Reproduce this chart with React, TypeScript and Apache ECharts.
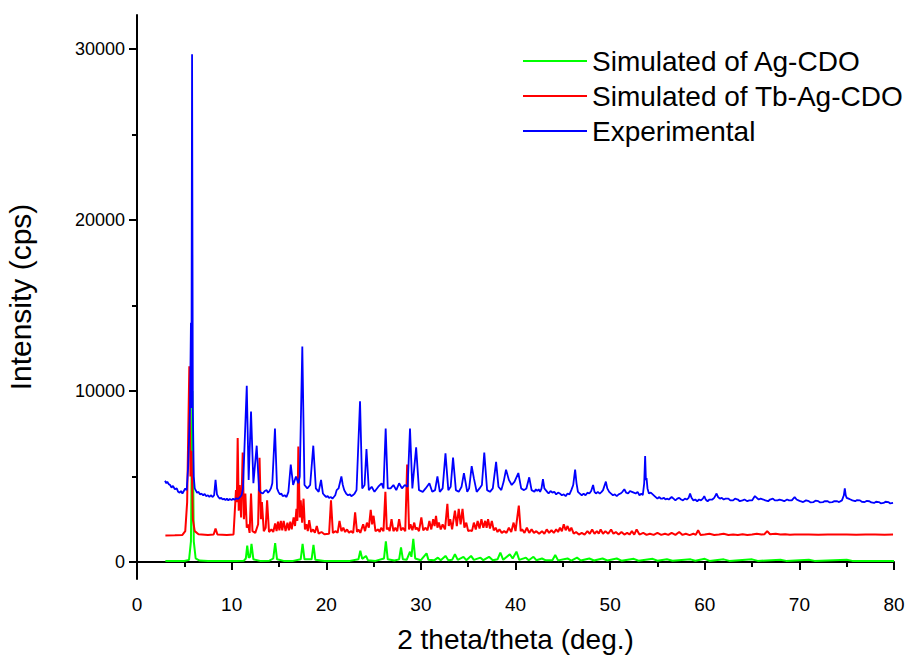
import React, { useEffect, useRef } from "react";
import * as echarts from "echarts";

const seriesNames = ["Simulated of Ag-CDO", "Simulated of Tb-Ag-CDO", "Experimental"];
const xTicks = { min: 0, max: 80, interval: 10 };
const yMajorTicks = [0, 10000, 20000, 30000];
const yMinorTicks = [5000, 15000, 25000];
const yRange = { min: -1000, max: 32000 };

const agCdo: number[][] = [
  [3.0,50],[4.0,60],[5.0,50],[5.5,120],[5.7,1200],[5.85,10000],[6.0,1200],[6.2,200],[6.6,80],[7.5,50],[8.5,60],[9.5,50],[10.5,60],[11.3,70],[11.5,200],[11.65,950],[11.8,250],[11.95,300],[12.1,1050],[12.3,150],[13.0,60],[14.0,70],[14.4,200],[14.6,1100],[14.8,150],[15.5,60],[16.5,60],[17.3,150],[17.5,1050],[17.7,150],[18.45,150],[18.65,1000],[18.85,120],[19.8,60],[21.0,50],[22.5,60],[23.4,150],[23.6,650],[23.8,180],[24.2,350],[24.4,100],[25.2,60],[26.1,200],[26.3,1200],[26.5,150],[27.2,80],[27.7,150],[27.9,850],[28.1,150],[28.5,120],[28.85,600],[29.0,300],[29.2,1350],[29.4,200],[30.0,100],[30.6,500],[30.8,120],[31.4,90],[31.8,250],[32.1,100],[32.6,350],[32.9,100],[33.3,120],[33.6,450],[33.9,120],[34.5,300],[34.8,100],[35.3,350],[35.6,120],[36.3,250],[36.6,100],[37.2,300],[37.6,100],[38.1,150],[38.4,550],[38.7,120],[39.4,450],[39.7,200],[40.1,600],[40.4,120],[41.1,250],[41.4,100],[41.9,300],[42.2,100],[42.8,200],[43.2,90],[43.9,100],[44.2,400],[44.5,90],[45.5,200],[45.9,80],[46.5,250],[46.9,80],[47.8,200],[48.3,80],[49.2,200],[49.7,80],[50.7,200],[51.2,70],[52.5,180],[53.0,70],[54.5,180],[55.0,70],[56.0,150],[56.6,70],[58.5,150],[59.0,70],[60.0,180],[60.5,60],[62.0,150],[62.6,60],[65.0,150],[65.6,60],[68.0,130],[68.6,60],[71.0,130],[71.6,60],[75.0,130],[75.6,60],[78,60],[80.0,50]
];

const tbAgCdo: number[][] = [
  [3.0,1550],[4.0,1560],[4.8,1580],[5.1,1800],[5.3,3500],[5.53,11450],[5.65,5000],[5.75,6500],[5.9,2500],[6.1,1800],[6.5,1620],[7.5,1580],[8.1,1600],[8.3,1950],[8.5,1600],[9.5,1570],[10.2,1600],[10.46,4200],[10.55,3500],[10.64,7250],[10.75,3000],[10.85,4500],[11.0,2600],[11.17,6400],[11.3,2500],[11.45,4000],[11.6,2000],[11.75,2200],[11.9,1700],[12.05,4000],[12.2,1800],[12.5,1700],[12.8,2200],[12.95,6100],[13.1,2500],[13.2,3500],[13.4,1800],[13.6,2000],[13.75,3600],[13.95,1750],[14.2,1900],[14.4,1750],[14.6,2250],[14.75,1800],[14.9,2350],[15.05,1850],[15.2,2400],[15.35,1850],[15.5,2400],[15.7,1800],[15.9,2300],[16.05,1850],[16.2,2350],[16.35,1900],[16.55,2600],[16.7,2100],[16.85,3100],[16.95,2400],[17.05,6750],[17.2,2600],[17.3,3600],[17.45,2300],[17.6,3700],[17.75,1900],[17.9,2200],[18.05,1800],[18.2,2450],[18.4,1750],[18.6,1900],[18.8,1700],[19.0,2100],[19.2,1650],[19.5,1750],[19.8,1620],[20.3,1650],[20.5,3600],[20.7,1700],[21.0,1800],[21.2,1700],[21.4,2400],[21.6,1800],[21.8,2000],[22.0,1750],[22.2,1900],[22.4,1700],[22.6,1800],[22.85,1700],[23.05,2900],[23.25,1750],[23.4,1900],[23.6,1700],[23.9,2200],[24.1,1800],[24.3,2300],[24.5,2000],[24.7,3050],[24.85,2200],[25.0,2700],[25.2,1800],[25.5,1900],[25.65,1750],[25.8,2000],[26.05,1800],[26.25,4100],[26.4,1900],[26.55,2000],[26.7,1800],[26.9,2500],[27.1,1800],[27.3,2000],[27.5,1800],[27.7,2500],[27.9,1850],[28.1,2000],[28.35,1800],[28.55,5700],[28.75,1900],[28.9,2200],[29.1,1850],[29.3,2300],[29.45,1900],[29.6,2000],[29.8,1800],[30.05,2600],[30.25,1850],[30.5,2000],[30.7,1850],[30.9,2400],[31.1,1900],[31.3,2500],[31.45,2100],[31.6,2700],[31.75,2000],[31.9,2300],[32.1,1900],[32.3,2200],[32.55,1900],[32.8,3400],[32.95,2100],[33.1,2500],[33.3,1900],[33.6,3000],[33.8,2100],[34.0,3100],[34.2,2200],[34.4,3100],[34.6,2000],[34.8,2300],[35.0,1800],[35.2,1850],[35.4,1800],[35.6,2300],[35.8,1900],[36.0,2400],[36.2,1950],[36.4,2500],[36.6,2000],[36.8,2400],[36.95,2000],[37.1,2500],[37.3,1950],[37.5,2400],[37.7,1850],[37.9,2000],[38.1,1750],[38.3,1900],[38.55,1700],[38.8,1800],[39.05,1700],[39.3,2000],[39.55,1750],[39.8,2300],[40.0,1800],[40.35,3300],[40.55,1800],[40.7,1900],[40.95,1700],[41.2,2000],[41.45,1700],[41.7,1900],[41.95,1700],[42.2,1800],[42.5,1650],[42.8,1800],[43.05,1650],[43.3,1900],[43.55,1700],[43.8,1850],[44.05,1700],[44.3,1900],[44.5,1750],[44.7,2000],[44.9,1800],[45.1,2200],[45.3,1850],[45.5,2100],[45.7,1800],[45.9,2000],[46.15,1650],[46.4,1750],[46.7,1600],[47.0,1700],[47.3,1600],[47.6,1800],[47.85,1650],[48.1,1900],[48.35,1650],[48.6,1800],[48.8,1650],[49.0,1900],[49.25,1650],[49.5,1800],[49.8,1650],[50.1,1900],[50.35,1650],[50.6,1750],[50.9,1600],[51.2,1750],[51.5,1600],[51.8,1700],[52.05,1600],[52.3,1800],[52.55,1600],[52.8,1900],[53.1,1600],[53.5,1700],[53.85,1580],[54.2,1650],[54.6,1580],[55.0,1700],[55.4,1580],[55.8,1650],[56.15,1580],[56.5,1700],[56.9,1580],[57.3,1750],[57.65,1580],[58.0,1650],[58.4,1570],[58.8,1650],[59.05,1580],[59.3,1850],[59.55,1580],[60.0,1600],[60.5,1650],[61.0,1580],[61.5,1600],[62.0,1650],[62.5,1580],[63.0,1600],[63.5,1580],[64.0,1620],[64.5,1580],[65.0,1600],[65.5,1650],[66.0,1600],[66.3,1620],[66.6,1800],[66.9,1620],[67.5,1650],[68.0,1600],[68.5,1620],[69.0,1590],[69.5,1610],[70.0,1600],[71.0,1610],[72.0,1590],[73.0,1610],[74.0,1600],[75.0,1600],[76.0,1590],[77.0,1610],[78.0,1600],[79.0,1590],[79.9,1600]
];

const experimental: number[][] = [
  [2.96,4750],[3.1,4600],[3.2,4700],[3.35,4550],[3.5,4500],[3.65,4350],[3.8,4450],[4.0,4250],[4.2,4300],[4.35,4100],[4.5,4050],[4.65,4150],[4.8,4000],[4.95,4150],[5.1,4300],[5.25,4200],[5.4,5500],[5.6,9000],[5.7,14000],[5.75,9000],[5.82,29700],[5.9,9000],[6.0,5000],[6.1,4300],[6.2,4200],[6.35,4050],[6.5,4100],[6.65,3950],[6.8,4000],[7.0,3900],[7.15,3980],[7.3,3850],[7.5,3900],[7.65,3800],[7.8,3900],[8.0,3800],[8.15,3900],[8.3,4800],[8.45,3950],[8.6,3800],[8.75,3700],[8.9,3750],[9.05,3650],[9.2,3700],[9.35,3620],[9.5,3700],[9.65,3600],[9.8,3680],[10.0,3620],[10.15,3700],[10.3,3640],[10.5,3720],[10.7,3680],[10.9,3800],[11.05,3900],[11.2,4300],[11.6,10300],[11.8,4800],[12.05,8800],[12.3,4600],[12.65,6800],[12.9,4200],[13.1,4050],[13.3,4000],[13.5,4150],[13.7,4200],[13.85,4050],[14.0,4150],[14.15,4300],[14.3,4600],[14.58,7800],[14.8,4300],[14.95,4100],[15.1,3950],[15.25,4000],[15.4,3850],[15.6,3900],[15.8,3800],[16.0,4100],[16.25,5700],[16.5,4500],[16.8,5000],[17.05,4600],[17.2,5000],[17.47,12600],[17.7,4500],[18.0,4300],[18.3,4500],[18.63,6800],[18.9,4300],[19.2,4100],[19.45,4800],[19.65,4000],[19.8,3900],[20.0,3800],[20.15,3850],[20.3,3750],[20.5,3800],[20.65,3700],[20.8,3800],[20.95,3900],[21.1,4200],[21.3,4300],[21.6,5000],[21.75,4500],[21.9,4200],[22.1,4000],[22.3,3900],[22.5,3950],[22.65,3850],[22.8,3900],[23.0,4000],[23.2,4200],[23.57,9400],[23.8,4300],[24.05,4500],[24.25,6600],[24.5,4200],[24.8,4400],[25.1,4100],[25.5,4400],[25.85,4600],[26.05,4300],[26.28,7800],[26.5,4300],[26.8,4300],[27.1,4500],[27.4,4200],[27.7,4600],[28.0,4300],[28.3,4500],[28.6,4400],[28.85,7800],[29.1,4300],[29.5,6700],[29.8,4200],[30.2,4100],[30.5,4300],[30.9,4600],[31.2,4100],[31.5,4200],[31.75,5000],[32.0,4100],[32.3,4300],[32.6,6350],[32.9,4200],[33.15,4400],[33.4,6100],[33.7,4200],[34.0,4100],[34.3,4400],[34.55,5200],[34.9,4100],[35.1,4300],[35.37,5600],[35.6,4900],[35.9,4100],[36.2,4300],[36.45,4500],[36.7,6400],[37.0,4200],[37.3,4100],[37.6,4300],[37.95,5850],[38.2,4400],[38.5,4200],[38.75,4700],[39.0,5400],[39.3,4800],[39.6,4500],[39.9,4700],[40.3,5200],[40.6,4300],[40.9,4200],[41.15,4300],[41.45,4950],[41.7,4200],[42.0,4100],[42.15,4250],[42.3,4150],[42.45,4250],[42.6,4100],[42.75,4300],[42.9,4850],[43.05,4300],[43.2,4200],[43.35,4100],[43.5,4000],[43.7,4150],[43.9,4050],[44.1,4100],[44.3,3950],[44.5,4050],[44.7,4000],[44.9,3900],[45.1,3950],[45.3,3850],[45.5,4000],[45.7,3950],[45.9,4200],[46.1,4500],[46.3,5400],[46.45,4600],[46.6,4100],[46.8,4000],[47.0,3900],[47.2,4000],[47.4,3900],[47.6,4050],[47.8,4000],[48.0,4150],[48.2,4500],[48.35,4100],[48.5,4000],[48.7,4100],[48.9,4000],[49.1,4100],[49.25,4200],[49.55,4700],[49.7,4300],[49.9,4100],[50.1,4000],[50.3,3900],[50.5,3950],[50.7,3850],[50.9,3950],[51.1,4000],[51.3,4100],[51.5,4250],[51.7,4050],[51.9,4000],[52.1,4150],[52.3,4100],[52.5,4050],[52.7,4000],[52.9,4100],[53.1,3900],[53.3,4000],[53.45,3900],[53.6,4600],[53.7,6200],[53.78,4800],[53.85,4900],[53.95,4300],[54.1,4000],[54.3,4050],[54.5,3950],[54.7,3850],[55.0,3700],[55.2,3800],[55.35,3700],[55.5,3700],[55.7,3750],[55.85,3650],[56.0,3700],[56.2,3650],[56.5,3800],[56.7,3700],[56.9,3600],[57.1,3700],[57.3,3750],[57.5,3650],[57.7,3600],[57.9,3700],[58.1,3650],[58.3,3750],[58.45,4000],[58.6,3750],[58.8,3600],[59.0,3650],[59.2,3550],[59.4,3650],[59.6,3600],[59.8,3700],[59.95,3850],[60.1,3650],[60.3,3550],[60.5,3650],[60.8,3650],[61.0,3750],[61.25,4000],[61.4,3800],[61.6,3700],[61.8,3750],[62.0,3650],[62.2,3700],[62.5,3700],[62.7,3600],[63.0,3600],[63.2,3700],[63.5,3650],[63.7,3550],[64.0,3600],[64.2,3650],[64.5,3550],[64.7,3600],[65.0,3600],[65.3,3850],[65.5,3750],[65.7,3650],[65.9,3700],[66.2,3650],[66.4,3600],[66.7,3550],[66.9,3650],[67.2,3700],[67.4,3600],[67.7,3600],[67.9,3650],[68.2,3600],[68.4,3550],[68.7,3650],[68.9,3600],[69.2,3600],[69.5,3800],[69.7,3650],[69.9,3600],[70.1,3550],[70.4,3500],[70.7,3600],[71.0,3550],[71.2,3480],[71.5,3500],[71.7,3580],[72.0,3550],[72.2,3480],[72.5,3500],[72.7,3560],[73.0,3550],[73.2,3480],[73.5,3500],[73.7,3560],[74.0,3550],[74.2,3500],[74.5,3600],[74.7,3900],[74.8,4300],[74.9,3900],[75.0,3750],[75.2,3700],[75.4,3650],[75.6,3600],[75.9,3550],[76.1,3620],[76.4,3600],[76.6,3520],[76.9,3500],[77.1,3570],[77.4,3550],[77.6,3480],[77.9,3450],[78.1,3520],[78.4,3500],[78.6,3430],[78.9,3450],[79.1,3520],[79.4,3500],[79.6,3420],[79.9,3450]
];

const FONT = "'Liberation Sans', Arial, sans-serif";

export default function App() {
  const ref = useRef<HTMLDivElement>(null);
  useEffect(() => {
    if (!ref.current) return;
    const chart = echarts.init(ref.current, undefined, { renderer: "svg" });
    const axisLine = { show: true, lineStyle: { color: "#000", width: 2 } };
    chart.setOption({
      animation: false,
      backgroundColor: "#fff",
      textStyle: { fontFamily: FONT },
      grid: { left: 137, right: 24, top: 15, bottom: 83, containLabel: false, outerBoundsMode: "none" },
      legend: {
        orient: "vertical",
        left: 518,
        top: 42,
        itemWidth: 64,
        itemHeight: 2,
        itemGap: 7,
        icon: "rect",
        data: seriesNames,
        textStyle: { fontSize: 28, color: "#000", fontFamily: FONT },
      },
      xAxis: {
        type: "value",
        min: xTicks.min,
        max: xTicks.max,
        interval: xTicks.interval,
        name: "2 theta/theta (deg.)",
        nameLocation: "middle",
        nameGap: 46,
        nameTextStyle: { fontSize: 28, color: "#000", fontFamily: FONT },
        axisLine,
        axisTick: { show: true, length: 8, lineStyle: { color: "#000", width: 2 } },
        minorTick: { show: true, splitNumber: 2, length: 5, lineStyle: { color: "#000", width: 2 } },
        axisLabel: { fontSize: 19, color: "#000", margin: 16, fontFamily: FONT },
        splitLine: { show: false },
        minorSplitLine: { show: false },
      },
      yAxis: [
        {
          type: "value",
          min: yRange.min,
          max: yRange.max,
          position: "left",
          name: "Intensity (cps)",
          nameLocation: "middle",
          nameGap: 102,
          nameTextStyle: { fontSize: 30, color: "#000", fontFamily: FONT },
          axisLine,
          axisTick: { show: true, length: 8, customValues: yMajorTicks, lineStyle: { color: "#000", width: 2 } },
          axisLabel: { fontSize: 18, color: "#000", margin: 12, customValues: yMajorTicks, fontFamily: FONT, formatter: (v: number) => String(v) },
          splitLine: { show: false },
        },
        {
          type: "value",
          min: yRange.min,
          max: yRange.max,
          position: "left",
          axisLine: { show: false },
          axisTick: { show: true, length: 5, customValues: yMinorTicks, lineStyle: { color: "#000", width: 2 } },
          axisLabel: { show: false },
          splitLine: { show: false },
        },
      ],
      series: [
        { name: seriesNames[0], type: "line", data: agCdo, showSymbol: false, symbol: "none", color: "#00ff00", lineStyle: { width: 2, color: "#00ff00" } },
        { name: seriesNames[1], type: "line", data: tbAgCdo, showSymbol: false, symbol: "none", color: "#ff0000", lineStyle: { width: 2, color: "#ff0000" } },
        { name: seriesNames[2], type: "line", data: experimental, showSymbol: false, symbol: "none", color: "#0000ff", lineStyle: { width: 1.8, color: "#0000ff" } },
      ],
    });
    return () => chart.dispose();
  }, []);
  return <div ref={ref} style={{ width: 918, height: 662, position: "absolute", left: 0, top: 0 }} />;
}
